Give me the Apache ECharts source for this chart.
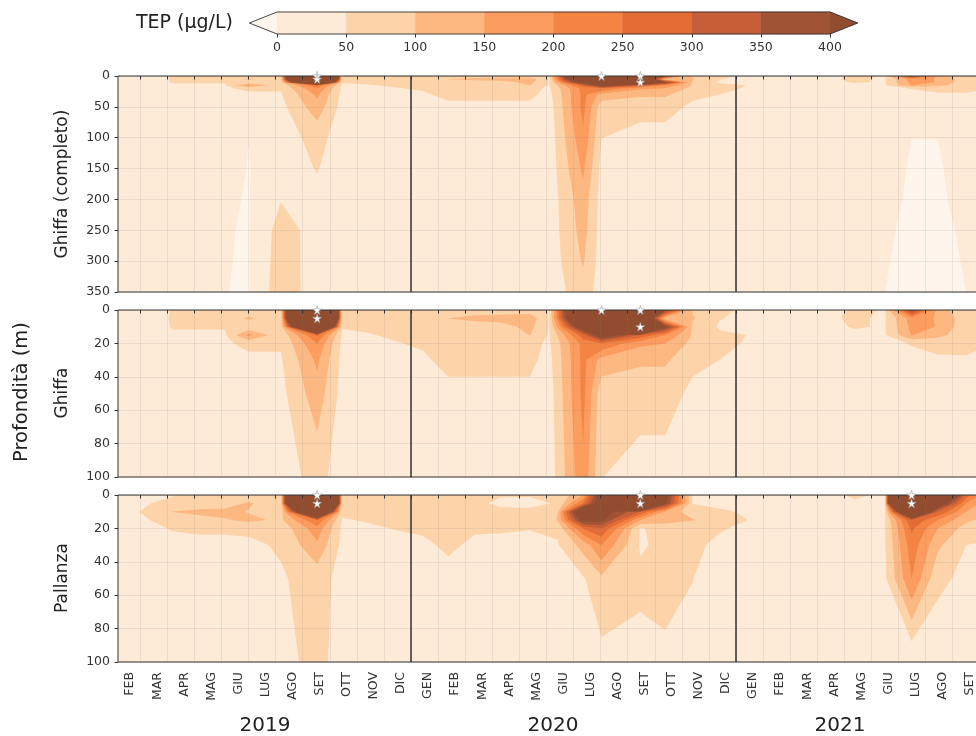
<!DOCTYPE html>
<html>
<head>
<meta charset="utf-8">
<script src="https://cdn.jsdelivr.net/npm/echarts@6/dist/echarts.min.js"></script>
<style>
  html, body { margin: 0; padding: 0; background: #fff; }
  #chart { width: 976px; height: 736px; }
</style>
</head>
<body>
<div id="chart"></div>
<script>
// ---- labels and colour scale ----
const MONTHS = ['GEN', 'FEB', 'MAR', 'APR', 'MAG', 'GIU', 'LUG', 'AGO', 'SET', 'OTT', 'NOV', 'DIC'];
const YEARS = ['2019', '2020', '2021'];
const ROW_TITLES = ['Ghiffa (completo)', 'Ghiffa', 'Pallanza'];
const LEVELS = [0, 50, 100, 150, 200, 250, 300, 350, 400];
const BAND_COLORS = ['#fdead7', '#fdd3aa', '#fdb882', '#fc9c5e', '#f48443', '#e36c34', '#c65f37', '#a15435'];
const UNDER_COLOR = '#fff5ec';
const OVER_COLOR = '#924d30';

// ---- Ghiffa: sampling dates, depths (m), TEP (ug/L) per date and depth ----
const GHIFFA_DEPTHS = [0, 5, 10, 15, 20, 30, 50, 100, 150, 200, 250, 300, 350];
const GHIFFA_DATES = [
  '2019-02-06', '2019-03-05', '2019-04-08', '2019-05-07', '2019-06-05', '2019-07-01',
  '2019-08-07', '2019-09-17', '2019-10-15', '2019-11-13', '2019-12-12',
  '2020-01-15', '2020-02-12', '2020-03-12', '2020-04-10', '2020-05-13', '2020-06-04',
  '2020-07-12', '2020-08-02', '2020-09-15', '2020-10-13', '2020-11-13', '2020-12-13',
  '2021-01-16', '2021-02-12', '2021-03-13', '2021-04-13', '2021-05-13', '2021-06-16',
  '2021-07-16', '2021-08-15', '2021-09-16', '2021-10-15', '2021-11-13', '2021-12-13'
];
const GHIFFA_TEP = [
  [30, 30, 30, 28, 28, 26, 24, 22, 20, 18, 18, 17, 17],
  [30, 30, 30, 28, 28, 26, 24, 22, 20, 18, 18, 17, 17],
  [53, 54, 53, 45, 40, 34, 28, 24, 21, 19, 18, 17, 17],
  [58, 60, 52, 46, 42, 36, 30, 25, 22, 19, 18, 17, 17],
  [62, 64, 53, 45, 44, 38, 30, 25, 19, 4.5, 2, 1.2, 0.7],
  [60, 110, 55, 165, 60, 40, 30, 0.5, -2, -2, -2.5, -2.5, -3],
  [60, 60, 60, 60, 55, 45, 35, 30, 30, 48, 70, 75, 80],
  [2500, 2500, 1200, 260, 200, 160, 130, 65, 52, 40, 32, 28, 25],
  [62, 60, 52, 45, 40, 36, 32, 30, 28, 25, 22, 20, 20],
  [60, 58, 55, 48, 42, 38, 33, 28, 25, 22, 20, 19, 18],
  [58, 58, 57, 54, 48, 38, 32, 27, 24, 21, 20, 19, 18],
  [58, 58, 57, 56, 54, 45, 33, 27, 24, 21, 20, 19, 18],
  [58, 101, 58, 57, 58, 60, 40, 27, 23, 21, 20, 19, 18],
  [70, 115, 72, 60, 58, 60, 40, 27, 23, 21, 20, 19, 18],
  [72, 120, 80, 62, 60, 60, 40, 26, 23, 21, 20, 19, 18],
  [75, 130, 115, 102, 65, 60, 40, 26, 23, 21, 20, 19, 18],
  [48, 48, 47, 45, 42, 35, 25, 20, 20, 20, 20, 20, 20],
  [800, 750, 500, 280, 220, 215, 215, 190, 160, 130, 120, 105, 80],
  [3000, 2500, 1500, 480, 250, 130, 70, 50.5, 35, 30, 28, 26, 24],
  [2000, 700, 2000, 300, 160, 110, 60, 40, 30, 25, 22, 20, 18],
  [420, 100, 430, 200, 150, 110, 60, 40, 28, 24, 21, 20, 18],
  [95, 105, 90, 95, 85, 55, 45, 35, 26, 22, 20, 19, 18],
  [60, 52, 45, 58, 60, 50, 40, 30, 25, 22, 20, 19, 18],
  [40, 40, 42, 49, 46, 40, 32, 27, 24, 21, 20, 19, 18],
  [38, 38, 38, 38, 36, 34, 30, 26, 23, 21, 20, 19, 18],
  [38, 38, 38, 37, 35, 33, 30, 26, 23, 21, 20, 19, 18],
  [42, 45, 44, 40, 37, 34, 30, 26, 23, 21, 20, 19, 18],
  [55, 55, 52, 45, 40, 35, 30, 26, 23, 21, 20, 19, 18],
  [48, 45, 48, 45, 40, 36, 30, 25, 20, 15, 6.7, 3, 0.1],
  [380, 175, 165, 152, 52, 40, 35, 0.3, -5, -8, -10, -12, -14],
  [130, 145, 148, 120, 60, 45, 38, 0.3, -5, -8, -10, -12, -14],
  [60, 70, 65, 60, 55, 48, 40, 25, 20, 15, 6.7, 3, 0.1],
  [55, 55, 54, 52, 50, 45, 35, 27, 24, 21, 20, 19, 18],
  [52, 52, 52, 50, 48, 44, 35, 27, 24, 21, 20, 19, 18],
  [48, 48, 48, 47, 46, 42, 35, 27, 24, 21, 20, 19, 18]
];
// samples flagged with a star marker [date, depth]
const GHIFFA_STARS = [
  ['2019-09-17', 0], ['2019-09-17', 5], ['2020-08-02', 0], ['2020-09-15', 0], ['2020-09-15', 10]
];

// ---- Pallanza ----
const PALLANZA_DEPTHS = [0, 5, 10, 15, 20, 30, 50, 100];
const PALLANZA_DATES = [
  '2019-02-06', '2019-03-01', '2019-04-07', '2019-05-07', '2019-06-05', '2019-07-01',
  '2019-08-07', '2019-09-17', '2019-10-15', '2019-11-13', '2019-12-12',
  '2020-01-15', '2020-02-12', '2020-03-12', '2020-04-10', '2020-05-13', '2020-06-13',
  '2020-07-12', '2020-08-02', '2020-09-15', '2020-10-13', '2020-11-13', '2020-12-13',
  '2021-01-16', '2021-02-12', '2021-03-13', '2021-04-13', '2021-05-13', '2021-06-16',
  '2021-07-16', '2021-08-15', '2021-09-16', '2021-10-15', '2021-11-13', '2021-12-13'
];
const PALLANZA_TEP = [
  [35, 38, 40, 38, 35, 30, 25, 20],
  [40, 45, 50.5, 45, 40, 32, 25, 20],
  [48, 60, 101, 62, 52, 40, 30, 22],
  [55, 65, 115, 80, 55, 42, 30, 22],
  [60, 70, 118, 95, 55, 42, 32, 22],
  [60, 108, 97, 112, 58, 42, 32, 22],
  [55, 58, 60, 90, 65, 55, 45, 40],
  [3000, 3000, 900, 250, 180, 140, 70, 60],
  [60, 60, 55, 48, 42, 38, 35, 37],
  [58, 58, 56, 52, 46, 40, 35, 30],
  [58, 58, 57, 54, 50.5, 42, 35, 30],
  [55, 56, 57, 56, 54, 45, 35, 30],
  [55, 56, 57, 58, 58, 55, 40, 30],
  [55, 56, 56, 55, 53, 45, 35, 28],
  [52, 45, 56, 55, 52, 45, 35, 28],
  [52, 44, 55, 53, 51, 42, 35, 28],
  [55, 52, 90, 102, 60, 45, 35, 28],
  [150, 250, 600, 450, 250, 120, 45, 30],
  [500, 480, 450, 420, 300, 200, 90, 33],
  [2500, 2500, 300, 150, 45, 45, 60, 35],
  [450, 420, 140, 120, 70, 60, 58, 45],
  [45, 48, 70, 104, 60, 55, 50.5, 40],
  [40, 42, 55, 70, 52, 45, 38, 30],
  [42, 44, 46, 49, 45, 40, 35, 28],
  [38, 38, 38, 38, 36, 34, 30, 25],
  [36, 36, 36, 36, 35, 33, 30, 25],
  [42, 40, 38, 37, 36, 34, 30, 25],
  [55, 45, 40, 38, 36, 34, 30, 25],
  [45, 47, 48, 48, 48, 47, 42, 30],
  [3000, 3000, 800, 300, 260, 230, 200, 0],
  [800, 500, 300, 200, 150, 110, 60, 20],
  [280, 200, 150, 110, 80, 50, 40, 25],
  [120, 100, 90, 80, 60, 45, 35, 25],
  [70, 65, 60, 55, 50, 42, 35, 25],
  [50, 50, 48, 46, 44, 40, 33, 25]
];
const PALLANZA_STARS = [
  ['2019-09-17', 0], ['2019-09-17', 5], ['2020-09-15', 0], ['2020-09-15', 5],
  ['2021-07-16', 0], ['2021-07-16', 5]
];

// ---- helpers ----
const FONT = 'DejaVu Sans';
const INK = '#333333';
const GRID_LINE = 'rgba(120,120,120,0.13)';
const STAR_PATH = 'path://M50,0 L61,35 L98,35 L68,57 L79,91 L50,70 L21,91 L32,57 L2,35 L39,35 Z';

// fractional months counted from 1 Jan 2019
function monthIndex(iso) {
  const [y, m, d] = iso.split('-').map(Number);
  const days = new Date(Date.UTC(y, m, 0)).getUTCDate();
  return (y - 2019) * 12 + (m - 1) + (d - 1) / days;
}
function range(a, b) { const r = []; for (let i = a; i <= b; i++) r.push(i); return r; }

const STATIONS = {
  ghiffa: { x: GHIFFA_DATES.map(monthIndex), depths: GHIFFA_DEPTHS, v: GHIFFA_TEP, stars: GHIFFA_STARS },
  pallanza: { x: PALLANZA_DATES.map(monthIndex), depths: PALLANZA_DEPTHS, v: PALLANZA_TEP, stars: PALLANZA_STARS }
};

// fill layers: everything, then >= each level
const LAYER_THRESHOLDS = [-Infinity].concat(LEVELS);
const LAYER_COLORS = [UNDER_COLOR].concat(BAND_COLORS, [OVER_COLOR]);

// keep the part of a polygon where component k is >= / <= limit
function clipPoly(poly, k, limit, keepAbove) {
  const out = [];
  const n = poly.length;
  for (let i = 0; i < n; i++) {
    const a = poly[i], b = poly[(i + 1) % n];
    const ain = keepAbove ? a[k] >= limit : a[k] <= limit;
    const bin = keepAbove ? b[k] >= limit : b[k] <= limit;
    if (ain) out.push(a);
    if (ain !== bin) {
      const f = (limit - a[k]) / (b[k] - a[k]);
      out.push([a[0] + f * (b[0] - a[0]), a[1] + f * (b[1] - a[1]), a[2] + f * (b[2] - a[2])]);
    }
  }
  return out;
}

// linear-interpolated filled region {TEP >= t} of a station, as one svg path
function layerPath(api, st, t, xmin, xmax, ymax) {
  let d = '';
  for (let i = 0; i < st.x.length - 1; i++) {
    if (st.x[i + 1] < xmin || st.x[i] > xmax) continue;
    for (let j = 0; j < st.depths.length - 1; j++) {
      if (st.depths[j] >= ymax) break;
      let poly = [
        [st.x[i], st.depths[j], st.v[i][j]],
        [st.x[i + 1], st.depths[j], st.v[i + 1][j]],
        [st.x[i + 1], st.depths[j + 1], st.v[i + 1][j + 1]],
        [st.x[i], st.depths[j + 1], st.v[i][j + 1]]
      ];
      if (t > -Infinity) poly = clipPoly(poly, 2, t, true);
      if (poly.length < 3) continue;
      poly = clipPoly(poly, 0, xmin, true);
      if (poly.length < 3) continue;
      poly = clipPoly(poly, 0, xmax, false);
      if (poly.length < 3) continue;
      poly = clipPoly(poly, 1, ymax, false);
      if (poly.length < 3) continue;
      poly.forEach((p, n) => {
        const c = api.coord([p[0], p[1]]);
        d += (n ? 'L' : 'M') + c[0].toFixed(2) + ' ' + c[1].toFixed(2);
      });
      d += 'Z';
    }
  }
  return d;
}

// ---- layout ----
const firstDay = monthIndex(GHIFFA_DATES[0]);
const COLS = [
  { left: 118, width: 293, min: firstDay, max: 12, ticks: range(2, 12) },
  { left: 411, width: 325, min: 12, max: 24, ticks: range(13, 24) },
  { left: 736, width: 325, min: 24, max: 36, ticks: range(25, 36) }
];
const ROWS = [
  { top: 76, height: 216, max: 350, interval: 50, station: 'ghiffa' },
  { top: 310, height: 167, max: 100, interval: 20, station: 'ghiffa' },
  { top: 495, height: 167, max: 100, interval: 20, station: 'pallanza' }
];

const grids = [], xAxes = [], yAxes = [], series = [];

ROWS.forEach((row, r) => {
  COLS.forEach((col, c) => {
    const k = grids.length;
    const st = STATIONS[row.station];
    grids.push({
      left: col.left, top: row.top, width: col.width, height: row.height,
      outerBoundsMode: 'none', containLabel: false,
      show: true, z: 5, backgroundColor: 'transparent', borderColor: INK, borderWidth: 1
    });
    xAxes.push({
      gridIndex: k, type: 'value', min: col.min, max: col.max, z: 3,
      axisLine: { show: false },
      axisTick: { show: true, customValues: col.ticks, length: 3.5, lineStyle: { color: INK, width: 1 } },
      axisLabel: {
        show: r === 2, customValues: col.ticks, rotate: 90, verticalAlign: 'bottom', lineHeight: 20,
        margin: 10, fontSize: 12.5, color: INK, fontFamily: FONT, showMinLabel: true, showMaxLabel: true,
        formatter: v => MONTHS[(Math.round(v) - 1) % 12]
      },
      splitLine: { show: true, lineStyle: { color: GRID_LINE, width: 1 } }
    });
    yAxes.push({
      gridIndex: k, type: 'value', inverse: true, min: 0, max: row.max, interval: row.interval, z: 3,
      axisLine: { show: false },
      axisTick: { show: c === 0, length: 3.5, lineStyle: { color: INK, width: 1 } },
      axisLabel: { show: c === 0, fontSize: 12.5, color: INK, fontFamily: FONT, margin: 8 },
      splitLine: { show: true, lineStyle: { color: GRID_LINE, width: 1 } }
    });
    series.push({
      type: 'custom', xAxisIndex: k, yAxisIndex: k, silent: true, z: 2,
      encode: { x: 0, y: 1 },
      data: LAYER_THRESHOLDS.map((t, i) => [col.min, 0, i]),
      renderItem: (params, api) => {
        const li = api.value(2);
        const d = layerPath(api, st, LAYER_THRESHOLDS[li], col.min, col.max, row.max);
        if (!d) return { type: 'group', children: [] };
        return { type: 'path', shape: { pathData: d }, style: { fill: LAYER_COLORS[li] } };
      }
    });
    const stars = st.stars
      .map(s => [monthIndex(s[0]), s[1]])
      .filter(p => p[0] >= col.min && p[0] <= col.max && p[1] <= row.max);
    if (stars.length) {
      series.push({
        type: 'scatter', xAxisIndex: k, yAxisIndex: k, z: 6, silent: true, clip: false,
        symbol: STAR_PATH, symbolSize: 9,
        itemStyle: { color: '#ffffff', borderColor: '#9a9a9a', borderWidth: 0.6, opacity: 1 },
        data: stars
      });
    }
  });
});

// ---- colour bar ----
const cbIndex = grids.length;
grids.push({ left: 277, top: 12, width: 553, height: 22, show: false, outerBoundsMode: 'none', containLabel: false });
xAxes.push({
  gridIndex: cbIndex, type: 'value', min: LEVELS[0], max: LEVELS[LEVELS.length - 1], interval: 50, z: 3,
  axisLine: { show: false },
  axisTick: { show: true, length: 3.5, lineStyle: { color: INK, width: 1 } },
  axisLabel: { fontSize: 12.5, color: INK, fontFamily: FONT, margin: 7 },
  splitLine: { show: false }
});
yAxes.push({ gridIndex: cbIndex, type: 'value', min: 0, max: 1, show: false });
series.push({
  type: 'custom', xAxisIndex: cbIndex, yAxisIndex: cbIndex, silent: true, z: 2,
  encode: { x: 0, y: 1 },
  data: LAYER_COLORS.map((col, i) => [LEVELS[0], 0, i]).concat([[LEVELS[0], 0, LAYER_COLORS.length]]),
  renderItem: (params, api) => {
    const i = api.value(2);
    const lo = LEVELS[0], hi = LEVELS[LEVELS.length - 1];
    const pL = api.coord([lo, 0]), pR = api.coord([hi, 1]);
    const x0 = pL[0], x1 = pR[0], yb = pL[1], yt = pR[1], ym = (yb + yt) / 2;
    const ext = 0.05 * (x1 - x0);
    let pts;
    if (i === 0) pts = [[x0, yt], [x0 - ext, ym], [x0, yb]];
    else if (i === LAYER_COLORS.length - 1) pts = [[x1, yt], [x1 + ext, ym], [x1, yb]];
    else if (i < LAYER_COLORS.length) {
      const a = api.coord([LEVELS[i - 1], 0])[0], b = api.coord([LEVELS[i], 0])[0];
      pts = [[a, yt], [b, yt], [b, yb], [a, yb]];
    } else {
      return {
        type: 'polygon', shape: { points: [[x0, yt], [x1, yt], [x1 + ext, ym], [x1, yb], [x0, yb], [x0 - ext, ym]] },
        style: { fill: 'none', stroke: INK, lineWidth: 0.9 }, z2: 10
      };
    }
    return { type: 'polygon', shape: { points: pts }, style: { fill: LAYER_COLORS[i], stroke: LAYER_COLORS[i], lineWidth: 0.5 } };
  }
});

// ---- titles ----
const graphics = [
  { type: 'text', x: 233, y: 23, style: { text: 'TEP (µg/L)', align: 'right', verticalAlign: 'middle', font: '19px "' + FONT + '"', fill: '#222' } },
  { type: 'text', x: 22, y: 392, rotation: Math.PI / 2, style: { text: 'Profondità (m)', align: 'center', verticalAlign: 'middle', font: '19.5px "' + FONT + '"', fill: '#222' } }
];
const rowTitleY = [184, 393, 578];
ROW_TITLES.forEach((t, r) => graphics.push({
  type: 'text', x: 63, y: rowTitleY[r], rotation: Math.PI / 2,
  style: { text: t, align: 'center', verticalAlign: 'middle', font: '17px "' + FONT + '"', fill: '#222' }
}));
const yearX = [265, 553, 840];
YEARS.forEach((t, c) => graphics.push({
  type: 'text', x: yearX[c], y: 726,
  style: { text: t, align: 'center', verticalAlign: 'middle', font: '20px "' + FONT + '"', fill: '#222' }
}));

const chart = echarts.init(document.getElementById('chart'), null, { renderer: 'canvas' });
chart.setOption({
  animation: false,
  backgroundColor: '#ffffff',
  textStyle: { fontFamily: FONT },
  grid: grids,
  xAxis: xAxes,
  yAxis: yAxes,
  series: series,
  graphic: graphics
});
</script>
</body>
</html>
